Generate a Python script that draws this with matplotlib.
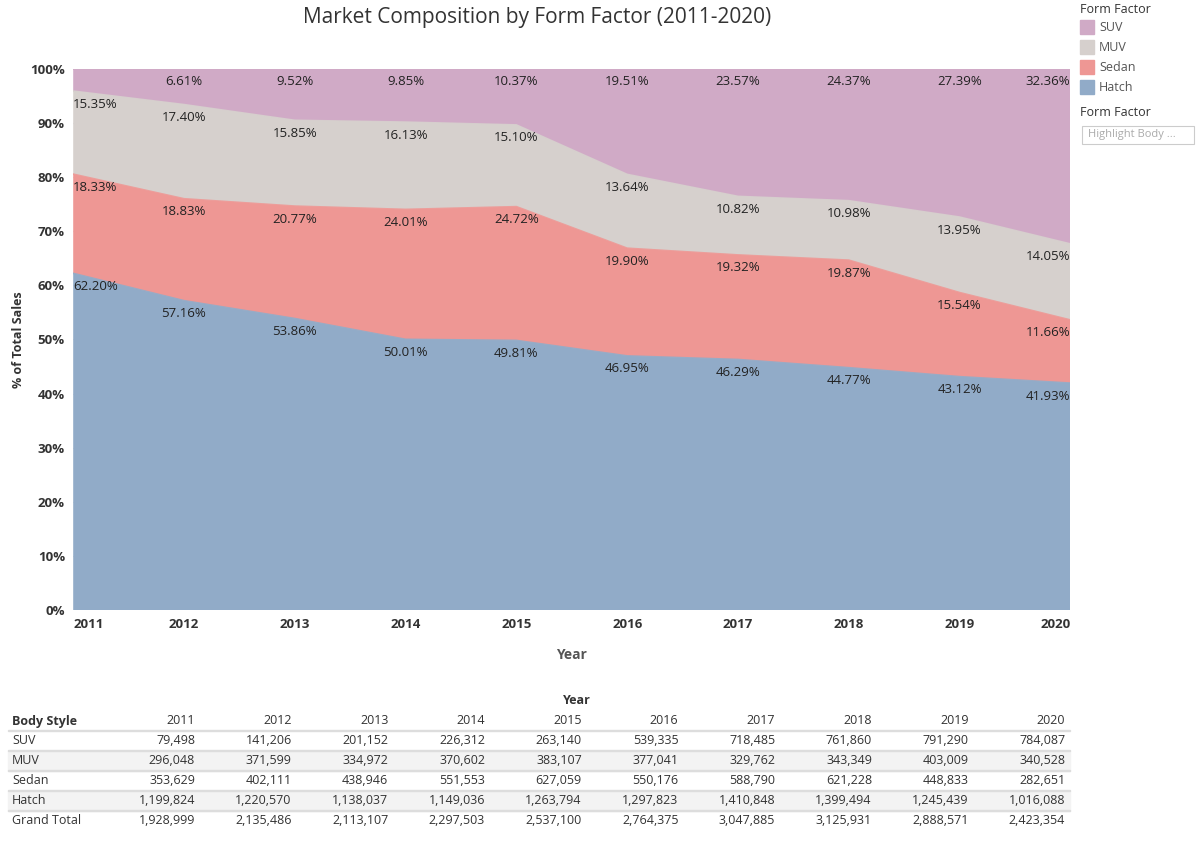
import numpy as np
import matplotlib.pyplot as plt

years = [2011, 2012, 2013, 2014, 2015, 2016, 2017, 2018, 2019, 2020]
suv = [79498, 141206, 201152, 226312, 263140, 539335, 718485, 761860, 791290, 784087]
muv = [296048, 371599, 334972, 370602, 383107, 377041, 329762, 343349, 403009, 340528]
sedan = [353629, 402111, 438946, 551553, 627059, 550176, 588790, 621228, 448833, 282651]
hatch = [1199824, 1220570, 1138037, 1149036, 1263794, 1297823, 1410848, 1399494, 1245439, 1016088]
grand_total = [1928999, 2135486, 2113107, 2297503, 2537100, 2764375, 3047885, 3125931, 2888571, 2423354]

names = ['Hatch', 'Sedan', 'MUV', 'SUV']
colors = ['#91abc8', '#ee9794', '#d6d0cd', '#d0aac6']

plt.rcParams['font.family'] = ['Open Sans', 'DejaVu Sans']

counts = np.array([hatch, sedan, muv, suv], dtype=float)
tot = counts.sum(axis=0)
shares = counts / tot * 100
cum = np.cumsum(shares, axis=0)

fig = plt.figure(figsize=(12, 8.49), dpi=100)
ax = fig.add_axes([0.061, 0.2815, 0.831, 0.6375])
x = np.arange(len(years))
ax.stackplot(x, shares, colors=colors, edgecolor='none')
for i in range(4):
    ax.plot(x, cum[i], color=colors[i], lw=1.2, alpha=0.9)
ax.set_xlim(0, len(years) - 1)
ax.set_ylim(0, 100)
ax.set_yticks(range(0, 101, 10))
ax.set_yticklabels([f'{v}%' for v in range(0, 101, 10)], fontsize=9.5, color='#333333', fontweight='bold')
ax.set_xticks(x)
ax.set_xticklabels([str(y) for y in years], fontsize=9.5, color='#333333', fontweight='bold')
for lab, ha in zip(ax.get_xticklabels(), ['left'] + ['center'] * 8 + ['right']):
    lab.set_ha(ha)
ax.tick_params(length=0, pad=6)
for s in ax.spines.values():
    s.set_visible(False)
ax.grid(axis='y', color='#e6e6e6', lw=0.8)
ax.set_axisbelow(True)
ax.set_ylabel('% of Total Sales', fontsize=9, fontweight='bold', color='#333333')
ax.set_xlabel('Year', fontsize=10, fontweight='bold', color='#555555', labelpad=12)
fig.text(0.448, 1 - 18 / 849, 'Market Composition by Form Factor (2011-2020)', fontsize=15,
         color='#333333', ha='center', va='center')

for i in range(4):
    for j in range(len(years)):
        if i == 3 and j == 0:
            continue
        ha = 'left' if j == 0 else ('right' if j == len(years) - 1 else 'center')
        ax.text(j, cum[i, j] - 2.4, f'{shares[i, j]:.2f}%', ha=ha, va='center', fontsize=9.5, color='#222222')

# legend
fig.text(0.9, 0.997, 'Form Factor', fontsize=9, color='#333333', va='top')
for k, n in enumerate(['SUV', 'MUV', 'Sedan', 'Hatch']):
    yy = 0.968 - k * 0.0235
    fig.patches.append(plt.Rectangle((0.9, yy - 0.008), 0.012, 0.016, color=colors[3 - k], transform=fig.transFigure))
    fig.text(0.916, yy, n, fontsize=9, color='#555555', va='center')
fig.text(0.9, 0.867, 'Form Factor', fontsize=9, color='#333333', va='center')
fig.patches.append(plt.Rectangle((0.902, 0.830), 0.093, 0.022, fill=False, ec='#cccccc', lw=0.8, transform=fig.transFigure))
fig.text(0.907, 0.841, 'Highlight Body ...', fontsize=8, color='#aaaaaa', va='center')

# table
W, H = 1200, 849
fig.text(577 / W, 1 - 701 / H, 'Year', fontsize=9, fontweight='bold', color='#333333', ha='center', va='center')
row_names = ['SUV', 'MUV', 'Sedan', 'Hatch', 'Grand Total']
row_vals = [suv, muv, sedan, hatch, grand_total]
col_x = [195 + j * 96.7 for j in range(len(years))]
fig.text(12 / W, 1 - 721 / H, 'Body Style', fontsize=9, fontweight='bold', color='#333333', va='center')
for j, yv in enumerate(years):
    fig.text(col_x[j] / W, 1 - 721 / H, str(yv), fontsize=9, color='#333333', ha='right', va='center')
for r, (rn, vals) in enumerate(zip(row_names, row_vals)):
    yy = 741 + r * 20
    if r % 2 == 1:
        fig.patches.append(plt.Rectangle((8 / W, 1 - (yy + 10) / H), 1062 / W, 20 / H, color='#f3f3f3', transform=fig.transFigure, zorder=0))
    fig.patches.append(plt.Rectangle((8 / W, 1 - (yy - 10) / H), 1062 / W, 0.001, color='#dddddd', transform=fig.transFigure))
    fig.text(12 / W, 1 - yy / H, rn, fontsize=9, color='#333333', va='center')
    for j, v in enumerate(vals):
        fig.text(col_x[j] / W, 1 - yy / H, f'{v:,}', fontsize=9, color='#333333', ha='right', va='center')

fig.savefig('out.png', dpi=100)
